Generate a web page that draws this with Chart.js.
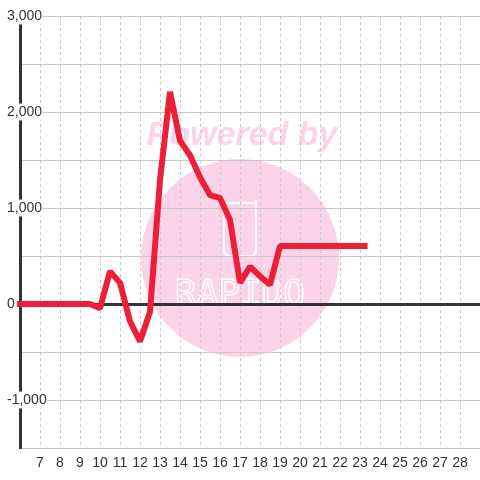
<!DOCTYPE html>
<html>
<head>
<meta charset="utf-8">
<script src="https://cdn.jsdelivr.net/npm/chart.js@4/dist/chart.umd.min.js"></script>
<style>
  html, body { margin: 0; padding: 0; background: #fff; }
  canvas { display: block; }
</style>
</head>
<body>
<canvas id="chart" width="480" height="480"></canvas>
<script>
// -----------------------------
// Data
// -----------------------------
const xValues = [5, 9.5, 10, 10.5, 11, 11.5, 12, 12.5, 13, 13.5, 14, 14.5, 15, 15.5, 16, 16.5, 17, 17.5, 18, 18.5, 19, 23.38];
const yValues = [0, 0, -45, 340, 220, -180, -390, -80, 1290, 2210, 1700, 1550, 1320, 1135, 1105, 875, 220, 390, 290, 200, 604, 604];
const xTickLabels = [7, 8, 9, 10, 11, 12, 13, 14, 15, 16, 17, 18, 19, 20, 21, 22, 23, 24, 25, 26, 27, 28];
const yTickLabels = [-1000, 0, 1000, 2000, 3000];

const LINE_RED = "#ed1e38";
const GRID_GREY = "#c9c9c9";
const AXIS_DARK = "#333";
const WATERMARK_PINK = "rgb(251,212,234)";
const FONT = "'Liberation Sans', Arial, sans-serif";

// -----------------------------
// Watermark (drawn under the grid)
// -----------------------------
const watermark = {
  id: "watermark",
  beforeDraw(chart) {
    const ctx = chart.ctx;
    ctx.save();
    ctx.fillStyle = WATERMARK_PINK;
    ctx.beginPath();
    ctx.arc(240, 258, 99, 0, Math.PI * 2);
    ctx.fill();

    ctx.font = "italic bold 34px " + FONT;
    ctx.textAlign = "center";
    ctx.textBaseline = "alphabetic";
    ctx.fillText("Powered by", 242, 145);

    // cup icon
    ctx.strokeStyle = "#fff";
    ctx.lineWidth = 2;
    ctx.beginPath();
    ctx.moveTo(224, 203);
    ctx.lineTo(224, 250);
    ctx.quadraticCurveTo(224, 256, 230, 256);
    ctx.lineTo(250, 256);
    ctx.quadraticCurveTo(256, 256, 256, 250);
    ctx.lineTo(256, 203);
    ctx.lineTo(224, 203);
    ctx.stroke();
    ctx.beginPath();
    ctx.moveTo(256, 203);
    ctx.lineTo(256, 200);
    ctx.stroke();

    ctx.font = "36px 'DejaVu Sans Mono', monospace";
    ctx.lineWidth = 1.5;
    ctx.strokeText("RAPIDO", 240, 305);
    ctx.restore();
  }
};

// -----------------------------
// Chart
// -----------------------------
const tickFont = { family: FONT, size: 14 };

new Chart(document.getElementById("chart"), {
  type: "line",
  data: {
    datasets: [{
      data: xValues.map((x, i) => ({ x: x, y: yValues[i] })),
      borderColor: LINE_RED,
      borderWidth: 6,
      borderCapStyle: "butt",
      borderJoinStyle: "bevel",
      tension: 0,
      pointRadius: 0,
      fill: false,
      clip: 3
    }]
  },
  options: {
    responsive: false,
    devicePixelRatio: 1,
    animation: false,
    layout: { padding: { top: 16, right: 0, left: 0, bottom: 0 } },
    plugins: {
      legend: { display: false },
      tooltip: { enabled: false }
    },
    scales: {
      x: {
        type: "linear",
        min: 6,
        max: 29,
        afterFit(s) { s.height = 32; },
        ticks: {
          stepSize: 1,
          autoSkip: false,
          maxRotation: 0,
          padding: 0,
          color: AXIS_DARK,
          font: tickFont,
          callback: v => xTickLabels.includes(v) ? String(v) : ""
        },
        grid: {
          color: GRID_GREY,
          lineWidth: 1,
          drawTicks: true,
          tickLength: 7,
          tickColor: "rgba(0,0,0,0)"
        },
        border: { color: GRID_GREY, width: 1, dash: [3, 3] }
      },
      y: {
        min: -1500,
        max: 3000,
        afterFit(s) { s.width = 20; },
        ticks: {
          stepSize: 500,
          mirror: true,
          crossAlign: "near",
          padding: -13,
          color: AXIS_DARK,
          font: tickFont,
          showLabelBackdrop: true,
          backdropColor: "#fff",
          backdropPadding: 0,
          callback: v => yTickLabels.includes(v) ? v.toLocaleString("en-US") : ""
        },
        grid: {
          drawTicks: false,
          color: c => c.tick && c.tick.value === 0 ? AXIS_DARK : GRID_GREY,
          lineWidth: c => c.tick && c.tick.value === 0 ? 3 : 1
        },
        border: { color: AXIS_DARK, width: 3 }
      }
    }
  },
  plugins: [watermark]
});
</script>
</body>
</html>
